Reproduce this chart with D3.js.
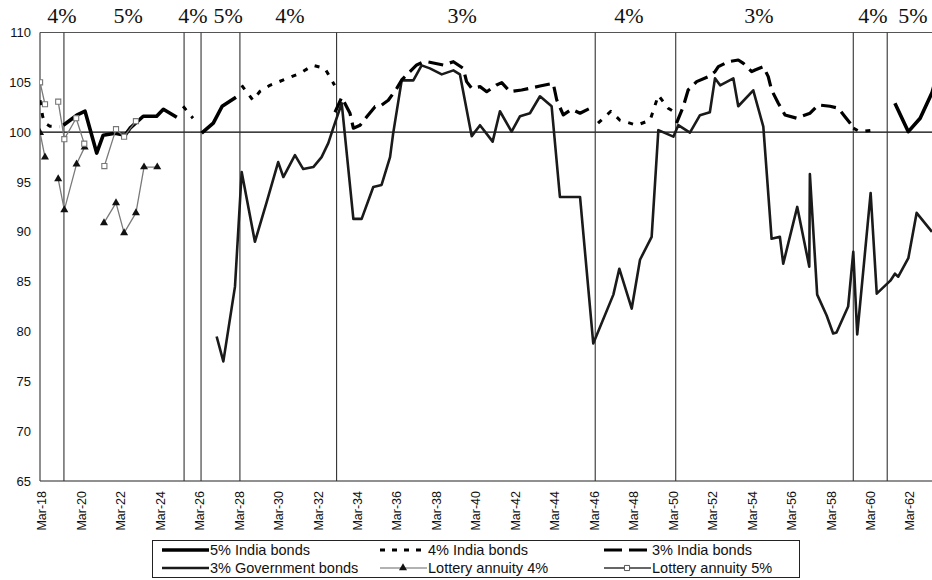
<!DOCTYPE html>
<html>
<head>
<meta charset="utf-8">
<script src="https://cdn.jsdelivr.net/npm/d3@7"></script>
<style>
body { margin: 0; background: #fff; }
text { font-family: Arial, "Liberation Sans", sans-serif; fill: #111; }
</style>
</head>
<body>
<svg id="chart" width="932" height="580"></svg>
<script>
// prices as [year, price]; null breaks a series where a different coupon applied
var india5 = [
	[1819.35,100.7],[1820.03,101.7],[1820.45,102.1],[1821.04,97.9],[1821.37,99.7],[1821.97,99.9],
	[1822.48,99.7],[1822.73,100.4],[1823.4,101.6],[1824.08,101.6],[1824.42,102.3],[1825.1,101.5],
	null,
	[1826.36,99.9],[1826.95,100.9],[1827.4,102.6],[1828.1,103.5],
	null,
	[1861.5,102.9],[1862.18,100.05],[1862.78,101.4],[1863.39,104.0],[1863.6,105.5]
];

var india4 = [
	[1818.17,103.2],[1818.3,101.6],[1818.42,100.9],[1818.67,100.6],[1819.17,100.55],
	null,
	[1825.42,102.6],[1825.92,101.4],
	null,
	[1828.39,104.7],[1828.96,103.2],[1829.32,104.1],[1829.82,104.7],[1830.58,105.3],[1831.34,105.9],
	[1832.0,106.7],[1832.61,106.4],[1833.1,104.7],
	null,
	[1846.45,100.9],[1847.1,102.1],[1847.56,101.2],[1848.41,100.7],[1849.09,101.2],[1849.51,103.7],
	[1850.01,102.4],[1850.35,102.0],
	null,
	[1859.39,100.4],[1859.72,100.05],[1860.4,100.2]
];

var india3 = [
	[1833.12,102.0],[1833.46,103.5],[1833.88,101.9],[1834.05,100.4],[1834.39,100.7],[1834.73,101.55],
	[1835.15,102.56],[1835.4,102.6],[1835.82,103.2],[1836.25,104.4],[1836.5,105.24],[1836.92,106.07],
	[1837.26,106.74],[1837.51,106.97],[1837.77,107.07],[1838.61,106.74],[1839.12,107.07],[1839.62,106.4],
	[1839.79,105.07],[1840.05,104.4],[1840.47,104.57],[1840.81,104.06],[1841.31,104.74],[1841.57,104.97],
	[1841.99,104.06],[1842.58,104.23],[1843.51,104.63],[1844.18,104.9],[1844.36,103.23],[1844.69,101.73],
	[1845.12,102.3],[1845.54,101.9],[1846.21,102.56],
	null,
	[1850.43,100.9],[1850.77,102.56],[1851.02,104.23],[1851.45,105.07],[1852.04,105.57],[1852.38,106.07],
	[1852.55,106.57],[1853.06,107.07],[1853.56,107.24],[1853.82,106.9],[1854.24,106.07],[1854.41,106.24],
	[1854.83,106.57],[1855.08,105.57],[1855.25,104.23],[1855.59,102.9],[1855.93,101.73],[1856.52,101.4],
	[1857.2,101.9],[1857.62,102.73],[1858.21,102.6],[1858.63,102.4],[1858.97,101.55],[1859.31,100.7]
];

var govt3 = [
	[1827.12,79.5],[1827.46,77.0],[1828.05,84.5],[1828.39,96.0],[1829.06,89.0],[1829.66,93.0],
	[1830.24,97.0],[1830.5,95.5],[1831.09,97.7],[1831.51,96.3],[1832.02,96.5],[1832.44,97.5],
	[1832.78,98.9],[1833.03,100.4],[1833.46,102.9],[1834.05,91.3],[1834.47,91.3],[1835.06,94.5],
	[1835.48,94.7],[1835.91,97.5],[1836.07,99.9],[1836.5,105.2],[1837.09,105.2],[1837.51,106.7],
	[1837.93,106.4],[1838.53,105.8],[1839.12,106.2],[1839.45,105.8],[1840.05,99.6],[1840.47,100.7],
	[1841.11,99.05],[1841.48,102.1],[1842.07,100.05],[1842.5,101.6],[1843.0,101.9],[1843.51,103.6],
	[1844.1,102.6],[1844.52,93.5],[1845.54,93.5],[1846.21,78.8],[1847.23,83.7],[1847.53,86.3],
	[1848.16,82.3],[1848.58,87.2],[1849.17,89.5],[1849.51,100.2],[1850.27,99.55],[1850.52,100.7],
	[1851.11,99.95],[1851.62,101.7],[1852.12,102.0],[1852.38,105.4],[1852.64,104.7],[1853.31,105.4],
	[1853.56,102.6],[1854.32,104.2],[1854.83,100.55],[1855.25,89.3],[1855.67,89.5],[1855.84,86.8],
	[1856.55,92.5],[1857.16,86.5],[1857.19,95.8],[1857.56,83.7],[1858.04,81.6],[1858.37,79.8],
	[1858.54,79.9],[1859.13,82.5],[1859.39,88.0],[1859.59,79.7],[1860.27,93.9],[1860.58,83.8],
	[1861.27,85.1],[1861.5,85.8],[1861.67,85.5],[1862.18,87.35],[1862.6,91.9],[1863.38,90.0]
];

var lottery4 = [
	[1818.17,99.95],[1818.42,97.5],
	null,
	[1819.09,95.3],[1819.4,92.2],[1820.02,96.8],[1820.43,98.5],
	null,
	[1821.41,90.9],[1822.02,92.9],[1822.43,89.9],[1823.03,91.9],[1823.44,96.5],[1824.11,96.5]
];

var lottery5 = [
	[1818.17,105.0],[1818.42,102.8],
	null,
	[1819.09,103.06],[1819.4,99.3],[1820.0,101.4],[1820.41,98.85],
	null,
	[1821.43,96.6],[1822.02,100.3],[1822.43,99.55],[1823.03,101.1]
];

// which coupon the India bonds carried, and when it changed
var regimeBreaks = [1819.38, 1825.47, 1826.33, 1828.30, 1833.20, 1846.31, 1850.39, 1859.39, 1861.11];
var regimeLabels = ["4%", "5%", "4%", "5%", "4%", "3%", "4%", "3%", "4%", "5%"];
var regimeLabelYears = [1819.28, 1822.63, 1825.92, 1827.70, 1830.84, 1839.56, 1848.02, 1854.61, 1860.39, 1862.41];

var yTicks = [65, 70, 75, 80, 85, 90, 95, 100, 105, 110];
var xTickYears = d3.range(1818, 1863, 2);

var svg = d3.select("#chart");

// plot area edges (note: "top" is reserved on window, so use other names)
var plotLeft = 40, plotRight = 932, plotTop = 32.5, plotBottom = 481;

var x = d3.scaleLinear().domain([1818.167, 1863.38]).range([plotLeft, plotRight]);
var y = d3.scaleLinear().domain([65, 110]).range([plotBottom, plotTop]);

svg.append("rect").attr("width", 932).attr("height", 580).attr("fill", "#fff");

svg.append("clipPath").attr("id", "plot-clip")
	.append("rect")
	.attr("x", plotLeft).attr("y", plotTop)
	.attr("width", plotRight - plotLeft).attr("height", plotBottom - plotTop);

// frame
svg.append("line")
	.attr("x1", plotLeft).attr("x2", plotRight).attr("y1", plotTop).attr("y2", plotTop)
	.attr("stroke", "#555").attr("stroke-width", 1.2);
svg.append("line")
	.attr("x1", plotLeft).attr("x2", plotRight).attr("y1", plotBottom).attr("y2", plotBottom)
	.attr("stroke", "#222").attr("stroke-width", 1.2);
svg.append("line")
	.attr("x1", plotLeft).attr("x2", plotLeft).attr("y1", plotTop).attr("y2", plotBottom)
	.attr("stroke", "#444").attr("stroke-width", 1.2);

// par line
svg.append("line")
	.attr("x1", plotLeft).attr("x2", plotRight).attr("y1", y(100)).attr("y2", y(100))
	.attr("stroke", "#000").attr("stroke-width", 1.2);

// coupon changes
svg.selectAll(".regime")
	.data(regimeBreaks)
	.enter()
	.append("line")
	.attr("class", "regime")
	.attr("x1", function(d) { return x(d); })
	.attr("x2", function(d) { return x(d); })
	.attr("y1", plotTop).attr("y2", plotBottom)
	.attr("stroke", "#333").attr("stroke-width", 1.1);

svg.selectAll(".regime-label")
	.data(regimeLabels)
	.enter()
	.append("text")
	.attr("class", "regime-label")
	.attr("x", function(d, i) { return x(regimeLabelYears[i]); })
	.attr("y", 23)
	.attr("text-anchor", "middle")
	.style("font-family", "'Liberation Serif', 'Times New Roman', serif")
	.style("font-size", "22px")
	.text(function(d) { return d; });

// y axis labels
svg.selectAll(".ylabel")
	.data(yTicks)
	.enter()
	.append("text")
	.attr("class", "ylabel")
	.attr("x", 31)
	.attr("y", function(d) { return y(d); })
	.attr("dy", "0.35em")
	.attr("text-anchor", "end")
	.style("font-size", "13px")
	.text(function(d) { return d; });

// x axis labels, rotated
svg.selectAll(".xlabel")
	.data(xTickYears)
	.enter()
	.append("text")
	.attr("class", "xlabel")
	.attr("transform", function(d) {
		return "translate(" + (x(d + 2 / 12) + 2) + "," + (plotBottom + 10) + ") rotate(-90)";
	})
	.attr("dy", "0.35em")
	.attr("text-anchor", "end")
	.style("font-size", "12.5px")
	.text(function(d) { return "Mar-" + String(d % 100); });

var line = d3.line()
	.defined(function(d) { return d !== null; })
	.x(function(d) { return x(d[0]); })
	.y(function(d) { return y(d[1]); });

var plot = svg.append("g").attr("clip-path", "url(#plot-clip)");

var styles = {
	govt3: { stroke: "#1a1a1a", width: 2.6, dash: null },
	india5: { stroke: "#000", width: 3.6, dash: null },
	india4: { stroke: "#000", width: 3, dash: "5,8" },
	india3: { stroke: "#000", width: 3.2, dash: "15,7" },
	lottery4: { stroke: "#7a7a7a", width: 1.3, dash: null },
	lottery5: { stroke: "#7a7a7a", width: 1.3, dash: null }
};

function drawSeries(data, s) {
	plot.append("path")
		.datum(data)
		.attr("d", line)
		.attr("fill", "none")
		.attr("stroke", s.stroke)
		.attr("stroke-width", s.width)
		.attr("stroke-dasharray", s.dash)
		.attr("stroke-linejoin", "round");
}

drawSeries(govt3, styles.govt3);
drawSeries(india3, styles.india3);
drawSeries(india4, styles.india4);
drawSeries(india5, styles.india5);
drawSeries(lottery4, styles.lottery4);
drawSeries(lottery5, styles.lottery5);

var triangle = d3.symbol().type(d3.symbolTriangle).size(28);
var square = d3.symbol().type(d3.symbolSquare).size(26);

plot.selectAll(".tri")
	.data(lottery4.filter(function(d) { return d !== null; }))
	.enter()
	.append("path")
	.attr("class", "tri")
	.attr("d", triangle)
	.attr("transform", function(d) { return "translate(" + x(d[0]) + "," + y(d[1]) + ")"; })
	.attr("fill", "#111");

plot.selectAll(".sq")
	.data(lottery5.filter(function(d) { return d !== null; }))
	.enter()
	.append("path")
	.attr("class", "sq")
	.attr("d", square)
	.attr("transform", function(d) { return "translate(" + x(d[0]) + "," + y(d[1]) + ")"; })
	.attr("fill", "#fff")
	.attr("stroke", "#777")
	.attr("stroke-width", 1.1);

// legend
var legendItems = [
	{ name: "5% India bonds", key: "india5", col: 0, row: 0 },
	{ name: "4% India bonds", key: "india4", col: 1, row: 0 },
	{ name: "3% India bonds", key: "india3", col: 2, row: 0 },
	{ name: "3% Government bonds", key: "govt3", col: 0, row: 1 },
	{ name: "Lottery annuity 4%", key: "lottery4", col: 1, row: 1 },
	{ name: "Lottery annuity 5%", key: "lottery5", col: 2, row: 1 }
];
var colX = [162, 380, 604];

var legend = svg.append("g");
legend.append("rect")
	.attr("x", 152.5).attr("y", 540.5)
	.attr("width", 647).attr("height", 37)
	.attr("fill", "#fff").attr("stroke", "#222").attr("stroke-width", 1);

var entry = legend.selectAll(".entry")
	.data(legendItems)
	.enter()
	.append("g")
	.attr("class", "entry")
	.attr("transform", function(d) { return "translate(" + colX[d.col] + "," + (550 + d.row * 18) + ")"; });

entry.append("line")
	.attr("x1", 0).attr("x2", 47).attr("y1", 0).attr("y2", 0)
	.attr("stroke", function(d) {
		if (d.key == "lottery4") return "#999";
		if (d.key == "lottery5") return "#333";
		return styles[d.key].stroke;
	})
	.attr("stroke-width", function(d) { return d.key.indexOf("lottery") == 0 ? 1.6 : styles[d.key].width; })
	.attr("stroke-dasharray", function(d) {
		if (d.key == "india4") return "5,7";
		if (d.key == "india3") return "18,7";
		return null;
	});

entry.filter(function(d) { return d.key == "lottery4"; })
	.append("path")
	.attr("d", triangle)
	.attr("transform", "translate(23,0)")
	.attr("fill", "#111");

entry.filter(function(d) { return d.key == "lottery5"; })
	.append("path")
	.attr("d", square)
	.attr("transform", "translate(23,0)")
	.attr("fill", "#fff")
	.attr("stroke", "#555");

entry.append("text")
	.attr("x", 48)
	.attr("dy", "0.35em")
	.style("font-size", "14.5px")
	.text(function(d) { return d.name; });
</script>
</body>
</html>
